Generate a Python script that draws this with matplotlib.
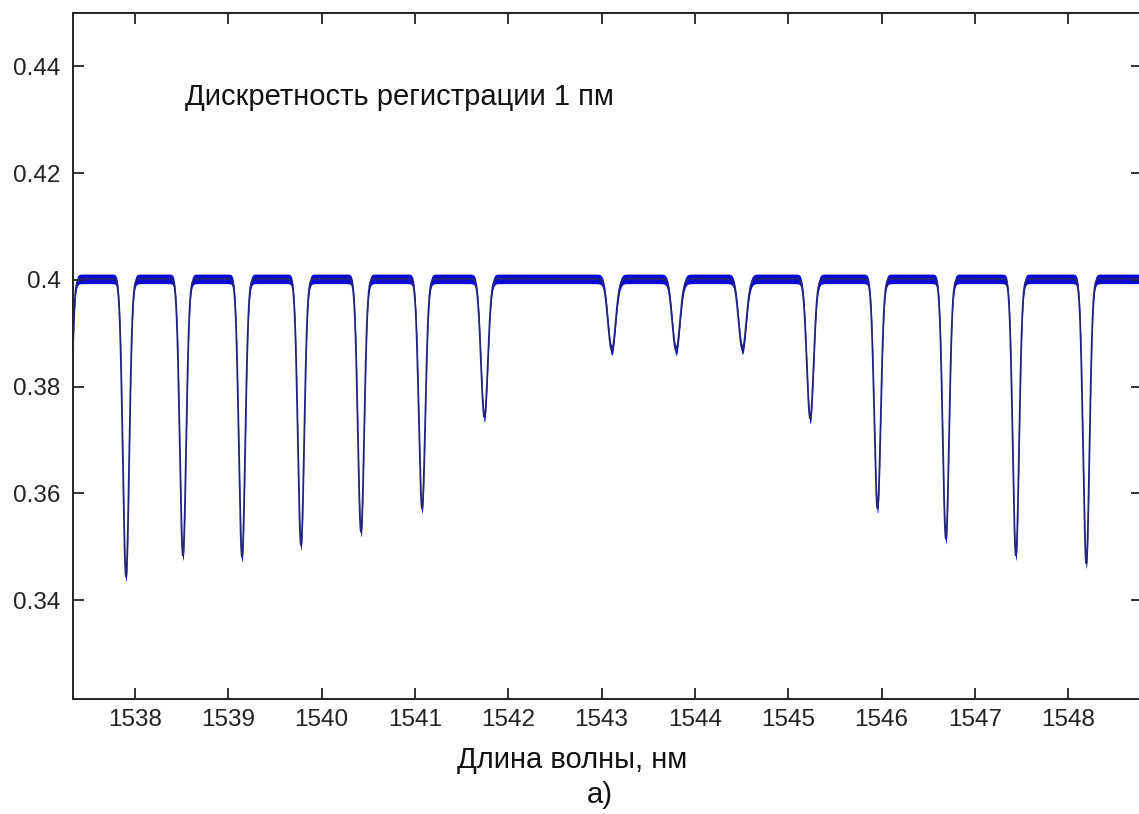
import matplotlib
matplotlib.use("Agg")
import matplotlib.pyplot as plt
import numpy as np

plt.rcParams['font.family'] = ['Liberation Sans', 'DejaVu Sans']

# dip centres (nm), dip minimum (a.u.) and dip half width (nm)
dip_centers = [1537.278, 1537.904, 1538.514, 1539.147, 1539.779, 1540.422, 1541.076,
               1541.744, 1543.109, 1543.798, 1544.509, 1545.235, 1545.956, 1546.689,
               1547.439, 1548.193]
dip_minima = [0.345, 0.3444, 0.3484, 0.3481, 0.3503, 0.3528, 0.3572,
              0.3743, 0.3868, 0.3868, 0.3870, 0.3740, 0.3572, 0.3515,
              0.3484, 0.3469]
dip_widths = [0.048, 0.048, 0.048, 0.048, 0.048, 0.048, 0.049,
              0.052, 0.058, 0.058, 0.058, 0.052, 0.049, 0.048,
              0.048, 0.048]
baseline = 0.4002
noise_band = 0.0009    # half thickness of the noisy band on the baseline

x_ticks = [1538, 1539, 1540, 1541, 1542, 1543, 1544, 1545, 1546, 1547, 1548]
y_ticks = [0.34, 0.36, 0.38, 0.40, 0.42, 0.44]
y_ticklabels = ['0.34', '0.36', '0.38', '0.4', '0.42', '0.44']

# 1 pm grid
wl = np.arange(1537.2, 1548.9, 0.001)
spec = np.full_like(wl, baseline)
for c, m, w in zip(dip_centers, dip_minima, dip_widths):
    spec -= (baseline - m) * np.exp(-((wl - c) / w) ** 2)

fig = plt.figure(figsize=(11.39, 8.14), dpi=100)
ax = fig.add_axes([73 / 1139, 115 / 814, 1069 / 1139, 686 / 814])

ax.fill_between(wl, spec - noise_band, spec + noise_band, color='#0a0ad6', lw=0)
ax.plot(wl, spec, color='#24247a', lw=1.3)

ax.set_xlim(1537.336, 1548.79)
ax.set_ylim(0.3215, 0.45)
ax.set_xticks(x_ticks)
ax.set_yticks(y_ticks)
ax.set_yticklabels(y_ticklabels)
ax.tick_params(direction='in', length=8, width=1.3, labelsize=17.5, colors='#222222',
               top=True, right=True, pad=7)
ax.tick_params(axis='y', pad=9)
for s in ax.spines.values():
    s.set_linewidth(1.4)
    s.set_color('#222222')

ax.text(0.1048, 0.8776, 'Дискретность регистрации 1 пм', transform=ax.transAxes,
        fontsize=21, va='center', ha='left', color='#111111')

fig.text(572 / 1139, 1 - 760 / 814, 'Длина волны, нм', fontsize=21,
         ha='center', va='center', color='#111111')
fig.text(600 / 1139, 1 - 795 / 814, 'а)', fontsize=21,
         ha='center', va='center', color='#111111')

fig.savefig('out.png', dpi=100)
plt.close()
